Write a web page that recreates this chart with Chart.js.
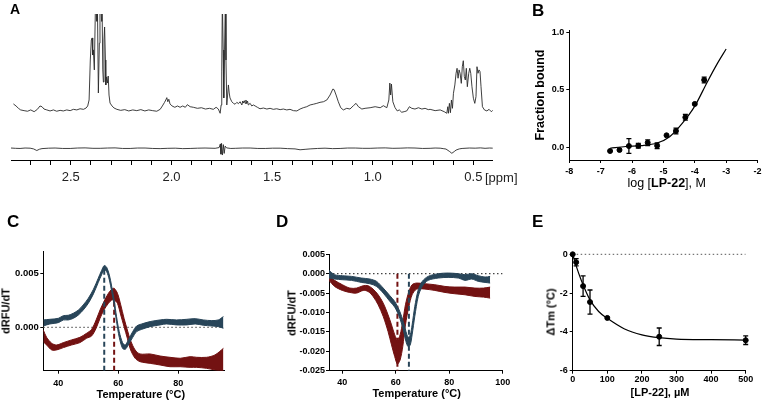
<!DOCTYPE html>
<html>
<head>
<meta charset="utf-8">
<script src="https://cdn.jsdelivr.net/npm/chart.js@4.4.1/dist/chart.umd.min.js"></script>
<style>
  body { margin: 0; background: #fff; }
  #page { position: relative; width: 765px; height: 403px; overflow: hidden; background: #fff; }
  canvas { position: absolute; }
  .t { position: absolute; font-family: 'Liberation Sans', Arial, sans-serif; font-weight: bold; white-space: nowrap; line-height: 1; color: #000; }
  .c { transform: translate(-50%, -50%); }
  .r { transform: translate(-50%, -50%) rotate(-90deg); }
  .n { font-weight: normal; }
</style>
</head>
<body>
<div id="page">
  <canvas id="chartA" width="515" height="200" style="left:0;top:0"></canvas>
  <canvas id="chartB" width="245" height="200" style="left:520px;top:0"></canvas>
  <canvas id="chartC" width="250" height="203" style="left:0;top:200px"></canvas>
  <canvas id="chartD" width="265" height="203" style="left:250px;top:200px"></canvas>
  <canvas id="chartE" width="245" height="203" style="left:520px;top:200px"></canvas>

  <div class="t" style="left:10px;top:2px;font-size:14px">A</div>
  <div class="t" style="left:532px;top:2px;font-size:17px">B</div>
  <div class="t" style="left:7px;top:213px;font-size:17px">C</div>
  <div class="t" style="left:276px;top:213px;font-size:17px">D</div>
  <div class="t" style="left:532px;top:213px;font-size:17px">E</div>

  <div class="t n" style="left:485px;top:176.7px;font-size:13px;transform:translateY(-50%);color:#222">[ppm]</div>

  <div class="t r" style="left:540px;top:95px;font-size:12.5px">Fraction bound</div>
  <div class="t c n" style="left:666.7px;top:182.7px;font-size:12.5px">log [<b>LP-22</b>], M</div>

  <div class="t r" style="left:6.3px;top:311px;font-size:11px">dRFU/dT</div>
  <div class="t c" style="left:140.8px;top:394px;font-size:11px">Temperature (°C)</div>

  <div class="t r" style="left:291.7px;top:313px;font-size:11px">dRFU/dT</div>
  <div class="t c" style="left:416.7px;top:393.3px;font-size:11px">Temperature (°C)</div>

  <div class="t r" style="left:550.7px;top:311.7px;font-size:11px">ΔTm (°C)</div>
  <div class="t c" style="left:660px;top:391.7px;font-size:11px">[LP-22], µM</div>
</div>
<script>
Chart.defaults.font.family = "'Liberation Sans', Arial, sans-serif";
Chart.defaults.color = '#000';

const blue = '#284559';
const red = '#731212';

// ---- A: 1H spectra, [ppm, intensity]
const aTicks = [2.7, 2.6, 2.5, 2.4, 2.3, 2.2, 2.1, 2.0, 1.9, 1.8, 1.7, 1.6, 1.5, 1.4, 1.3, 1.2, 1.1, 1.0, 0.9, 0.8, 0.7, 0.6, 0.5];
const aLabels = ['2.5', '2.0', '1.5', '1.0', '0.5'];
const aTop = [
  [2.785,38.4],[2.772,37.0],[2.760,35.4],[2.749,34.3],[2.732,33.8],[2.715,33.4],[2.699,34.3],[2.682,33.1],[2.666,34.7],[2.653,37.0],
  [2.643,36.5],[2.633,34.9],[2.619,34.3],[2.603,33.6],[2.586,34.3],[2.570,33.4],[2.553,34.0],[2.537,33.6],[2.520,34.3],[2.503,33.8],
  [2.487,34.7],[2.470,34.3],[2.454,35.1],[2.437,34.7],[2.424,35.6],[2.416,37.0],[2.409,41.1],[2.403,68.5],[2.398,82.2],[2.394,83.6],
  [2.391,71.9],[2.388,75.4],[2.383,61.7],[2.377,110],[2.373,110],[2.370,95],[2.368,110],[2.363,45.9],[2.358,80],[2.355,110],
  [2.351,110],[2.347,95],[2.345,110],[2.341,61.7],[2.338,53.4],[2.335,82.2],[2.332,91.1],[2.328,68.5],[2.326,51.4],[2.322,56.9],
  [2.318,52.7],[2.314,57.5],[2.310,44.5],[2.305,39.0],[2.295,37.0],[2.285,35.6],[2.271,34.7],[2.252,34.0],[2.232,34.5],[2.212,33.6],
  [2.192,34.3],[2.172,33.8],[2.152,34.5],[2.132,33.6],[2.113,34.3],[2.093,33.8],[2.073,33.4],[2.056,34.7],[2.045,37.0],[2.035,39.3],
  [2.028,41.1],[2.023,42.7],[2.018,39.9],[2.013,41.6],[2.007,38.4],[1.997,37.0],[1.983,36.1],[1.970,37.0],[1.957,36.1],[1.944,37.0],
  [1.931,36.1],[1.921,37.9],[1.907,36.5],[1.891,36.1],[1.871,35.4],[1.851,35.8],[1.831,34.9],[1.811,35.4],[1.792,34.7],[1.778,36.1],
  [1.767,34.9],[1.758,32.0],[1.753,37.7],[1.750,60.3],[1.747,110],[1.743,75.4],[1.740,42.5],[1.736,75.4],[1.732,110],[1.729,68.5],
  [1.725,37.7],[1.721,44.5],[1.717,51.4],[1.713,45.9],[1.709,42.5],[1.700,39.9],[1.692,38.8],[1.684,38.2],[1.675,39.5],[1.667,38.6],
  [1.659,39.9],[1.650,37.7],[1.646,40.4],[1.643,39.0],[1.638,40.6],[1.634,38.8],[1.630,41.1],[1.626,38.6],[1.622,40.4],[1.618,37.7],
  [1.609,38.8],[1.601,37.0],[1.593,37.7],[1.584,37.0],[1.573,36.1],[1.560,35.1],[1.543,35.6],[1.526,34.9],[1.510,35.4],[1.494,34.7],
  [1.477,35.1],[1.460,34.5],[1.444,34.9],[1.427,34.3],[1.411,34.7],[1.394,33.8],[1.377,33.6],[1.361,34.9],[1.345,35.8],[1.328,36.5],
  [1.311,37.7],[1.295,38.2],[1.278,38.8],[1.262,39.5],[1.245,39.9],[1.228,41.1],[1.212,44.5],[1.198,48.6],[1.192,48.2],[1.182,44.5],
  [1.171,39.9],[1.159,35.8],[1.146,34.3],[1.129,35.4],[1.113,34.9],[1.096,37.2],[1.083,38.8],[1.071,36.5],[1.054,34.9],[1.038,35.4],
  [1.013,35.8],[0.988,36.5],[0.963,35.8],[0.947,37.2],[0.930,35.8],[0.920,41.1],[0.915,52.7],[0.911,44.5],[0.907,52.0],[0.900,39.9],
  [0.889,35.8],[0.878,33.6],[0.868,34.3],[0.856,32.7],[0.844,33.1],[0.831,33.6],[0.818,36.5],[0.806,35.4],[0.790,34.9],[0.773,35.8],
  [0.756,34.9],[0.740,35.4],[0.724,34.5],[0.715,34.7],[0.690,33.8],[0.665,34.3],[0.645,33.1],[0.632,32.0],[0.627,36.5],[0.624,32.0],
  [0.619,38.8],[0.614,32.4],[0.609,41.1],[0.604,35.4],[0.599,45.7],[0.592,51.4],[0.586,59.4],[0.581,62.8],[0.576,56.0],[0.571,61.7],
  [0.566,59.4],[0.560,52.5],[0.555,63.9],[0.550,68.0],[0.545,57.1],[0.540,54.8],[0.535,62.8],[0.530,50.2],[0.523,59.4],[0.518,62.8],
  [0.513,59.4],[0.507,50.2],[0.500,42.3],[0.493,38.8],[0.487,43.4],[0.482,63.9],[0.477,59.4],[0.472,61.7],[0.467,60.5],[0.462,50.2],
  [0.455,36.5],[0.445,34.3],[0.433,33.6],[0.422,34.7],[0.411,33.1],[0.401,34.3]
];
const aBottom = [
  [2.797,8.2],[2.775,8.0],[2.752,7.9],[2.727,8.2],[2.702,8.1],[2.685,7.6],[2.669,6.5],[2.655,7.4],[2.643,7.8],[2.610,8.1],
  [2.578,8.2],[2.540,7.9],[2.503,7.9],[2.466,8.2],[2.429,8.3],[2.390,8.0],[2.354,8.0],[2.317,8.2],[2.280,8.3],[2.243,7.9],
  [2.205,7.9],[2.168,8.2],[2.131,8.2],[2.093,7.9],[2.056,7.8],[2.018,8.0],[1.981,8.1],[1.944,7.8],[1.907,7.9],[1.870,8.1],
  [1.833,8.2],[1.783,8.0],[1.763,8.5],[1.757,11.0],[1.754,4.0],[1.751,11.4],[1.747,3.4],[1.742,10.5],[1.738,4.5],[1.733,9.5],
  [1.726,8.3],[1.705,7.9],[1.683,8.0],[1.646,8.2],[1.609,8.2],[1.571,7.9],[1.534,7.9],[1.497,8.1],[1.460,8.1],[1.423,7.8],
  [1.386,7.6],[1.361,7.0],[1.336,7.3],[1.311,7.6],[1.274,7.9],[1.237,8.1],[1.200,7.8],[1.162,7.9],[1.125,8.2],[1.087,8.2],
  [1.050,8.0],[1.013,8.0],[0.975,8.2],[0.938,8.3],[0.900,8.0],[0.864,8.1],[0.827,8.3],[0.790,8.2],[0.752,7.9],[0.715,8.0],
  [0.690,8.2],[0.665,8.1],[0.650,7.8],[0.636,7.5],[0.620,6.0],[0.607,4.6],[0.595,5.8],[0.586,6.8],[0.570,7.6],[0.556,7.9],
  [0.520,8.2],[0.491,8.1],[0.465,8.3],[0.442,8.0],[0.420,8.2],[0.402,8.1]
];

// ---- B: binding curve
const bLogConc = [-6.7, -6.4, -6.1, -5.8, -5.5, -5.2, -4.9, -4.6, -4.3, -4.0, -3.7];
const bFraction = [-0.029, -0.02, 0.014, 0.017, 0.043, 0.017, 0.107, 0.145, 0.263, 0.379, 0.587];
const bError = [0, 0, 0.064, 0.02, 0.025, 0.025, 0, 0.025, 0.025, 0, 0.025];
const bFitX = [-6.7, -6.2, -5.7, -5.2, -4.8, -4.4, -4.0, -3.6, -3.3, -3.0];
const bFitY = [-0.005, 0.01, 0.017, 0.04, 0.095, 0.21, 0.36, 0.57, 0.72, 0.855];
const bXTicks = [-8, -7, -6, -5, -4, -3, -2];
const bYTicks = [0, 0.5, 1.0];

// ---- C: melt curves (band edges)
const cBlueX = [35, 37.2, 40, 41.7, 43.3, 45, 46.7, 48.3, 50, 51.7, 53.3, 54.4, 55.3, 56.1, 57, 57.8, 58.6, 59.4, 60.3, 61.4, 62.3, 63.3, 64.8, 66.1, 67.8, 70.6, 73.9, 76.1, 79.4, 82.8, 85.6, 88.3, 91.1, 93.3, 95];
const cBlueHi = [0.00068, 0.00074, 0.00083, 0.00108, 0.00111, 0.0013, 0.0016, 0.00207, 0.00269, 0.00352, 0.00454, 0.00525, 0.00572, 0.00556, 0.00485, 0.00377, 0.00253, 0.00099, -0.0004, -0.00142, -0.00164, -0.00117, -0.0004, 0.00012, 0.00031, 0.00053, 0.00068, 0.00074, 0.00068, 0.00074, 0.0008, 0.00068, 0.00062, 0.00068, 0.00099];
const cBlueLo = [0.00012, 0.00031, 0.00043, 0.00068, 0.00068, 0.00083, 0.00114, 0.0016, 0.00222, 0.00309, 0.00414, 0.00485, 0.00531, 0.00516, 0.00439, 0.0033, 0.00207, 0.00053, -0.00093, -0.00195, -0.00204, -0.00164, -0.00093, -0.0004, -0.00019, 0.00006, 0.00022, 0.00031, 0.00022, 0.00022, 0.00031, 0.00019, 0.00012, 0.00006, -0.00009];
const cRedX = [35, 36.1, 37.8, 39.4, 41.7, 44.4, 47.2, 49.4, 51.1, 52.6, 53.9, 55.2, 56.7, 57.8, 58.6, 59.7, 60.8, 61.9, 63, 64.1, 65.6, 67.2, 70.6, 73.9, 77.2, 80.6, 83.9, 86.1, 89.4, 92.2, 95];
const cRedHi = [-0.00025, -0.00093, -0.00148, -0.00164, -0.00142, -0.00117, -0.00093, -0.00056, -0.00019, 0.00068, 0.0016, 0.00238, 0.00315, 0.00352, 0.00361, 0.00315, 0.00207, 0.00083, -0.00025, -0.00124, -0.0021, -0.00247, -0.00247, -0.00266, -0.00278, -0.00287, -0.00272, -0.00278, -0.00278, -0.00256, -0.00195];
const cRedLo = [-0.00133, -0.00164, -0.0021, -0.0021, -0.00188, -0.00164, -0.00142, -0.00102, -0.0008, -0.00009, 0.00083, 0.0016, 0.00222, 0.00253, 0.00253, 0.00222, 0.00114, 0.00006, -0.00102, -0.0021, -0.00287, -0.00318, -0.00334, -0.00349, -0.00365, -0.00365, -0.00371, -0.00371, -0.0038, -0.00395, -0.00402];
const cTm = { blue: [55.3, 0.0055], red: [58.6, 0.0030] };
const cXTicks = [40, 60, 80];
const cYTicks = [0, 0.005];

// ---- D
const dBlueX = [35, 37.1, 40, 43.4, 47.1, 50.3, 52.8, 55.3, 57.8, 59.6, 61.5, 62.8, 63.8, 64.6, 65.4, 66.1, 67.1, 68.4, 69.9, 72.1, 75.9, 79.6, 83.4, 85.9, 88.4, 90.9, 93.4, 95.3];
const dBlueHi = [0.00086, -0.00026, -0.00052, -0.00069, -0.00112, -0.00138, -0.00198, -0.00371, -0.00569, -0.00716, -0.00974, -0.01233, -0.01491, -0.01638, -0.01577, -0.01319, -0.00845, -0.00414, -0.00198, -0.00069, 0, 0.00017, 0, -0.00026, 0, -0.00052, -0.00086, -0.00069];
const dBlueLo = [-0.00112, -0.00138, -0.00155, -0.00172, -0.00224, -0.00259, -0.00328, -0.005, -0.00716, -0.00862, -0.01147, -0.01448, -0.0175, -0.01879, -0.01836, -0.01577, -0.01103, -0.00586, -0.00328, -0.00172, -0.00112, -0.00095, -0.00112, -0.00172, -0.00138, -0.00198, -0.00224, -0.00241];
const dRedX = [35, 37.1, 40, 42.8, 45.3, 47.8, 49.6, 51.5, 53.4, 55.3, 57.1, 58.4, 59.6, 60.6, 61.6, 62.6, 63.6, 64.9, 66.1, 67.8, 70.9, 74.6, 78.4, 82.1, 85.9, 89.6, 92.8, 95.3];
const dRedHi = [-0.00052, -0.00172, -0.00284, -0.00371, -0.00371, -0.0031, -0.0031, -0.00397, -0.00543, -0.00759, -0.0106, -0.01319, -0.01577, -0.01707, -0.01577, -0.01233, -0.00802, -0.00457, -0.00284, -0.00241, -0.00259, -0.00284, -0.00328, -0.00345, -0.00345, -0.00371, -0.00371, -0.00345];
const dRedLo = [-0.00172, -0.00328, -0.00431, -0.00483, -0.005, -0.00431, -0.00457, -0.00586, -0.00802, -0.01103, -0.01491, -0.01836, -0.02138, -0.0233, -0.02224, -0.01879, -0.01319, -0.00845, -0.00543, -0.00397, -0.00397, -0.00431, -0.00483, -0.00517, -0.00543, -0.00586, -0.00603, -0.00629];
const dTm = { red: 60.6, blue: 64.9 };
const dXTicks = [40, 60, 80, 100];
const dYTicks = [0.005, 0, -0.005, -0.01, -0.015, -0.02, -0.025];

// ---- E: delta Tm vs concentration
const eConc = [0, 10, 30, 50, 100, 250, 500];
const eDeltaTm = [0, -0.41, -1.64, -2.46, -3.28, -4.25, -4.43];
const eError = [0, 0.19, 0.53, 0.62, 0, 0.45, 0.22];
const eFitX = [0, 10, 25, 50, 75, 100, 150, 200, 250, 300, 400, 500];
const eFitY = [0, -0.6, -1.35, -2.35, -2.95, -3.3, -3.85, -4.15, -4.3, -4.37, -4.4, -4.42];
const eXTicks = [0, 100, 200, 300, 400, 500];
const eYTicks = [0, -2, -4, -6];

const pts = (xs, ys) => xs.map((x, i) => ({ x: x, y: ys[i] }));
const pairs = arr => arr.map(p => ({ x: p[0], y: p[1] }));

function axis(o) {
    return {
        type: 'linear',
        bounds: 'data',
        min: o.min,
        max: o.max,
        reverse: !!o.reverse,
        display: o.display !== false,
        border: { display: true, color: '#000', width: 1 },
        grid: { display: true, drawOnChartArea: false, drawTicks: true, tickLength: o.tickLen ?? 3, tickColor: '#000', tickWidth: 1 },
        ticks: {
            autoSkip: false,
            maxRotation: 0,
            padding: o.pad ?? 2,
            color: o.color || '#000',
            font: o.font || { size: 9, weight: 'bold' },
            callback: o.fmt,
        },
        afterBuildTicks: s => { s.ticks = o.ticks.map(v => ({ value: v })); },
        afterFit: s => {
            if (o.w != null) s.width = o.w;
            if (o.h != null) s.height = o.h;
        },
    };
}

function band(xs, hi, lo, color, order) {
    return [
        { data: pts(xs, hi), borderColor: color, borderWidth: 1, tension: 0.3, fill: false, order: order },
        { data: pts(xs, lo), borderColor: color, borderWidth: 1, tension: 0.3, fill: '-1', backgroundColor: color, order: order },
    ];
}

function line(data, color, opts) {
    return Object.assign({ data: data, borderColor: color, borderWidth: 1, fill: false, pointRadius: 0 }, opts || {});
}

// error bars drawn through the chart's own scales
function errorBars(xs, ys, errs, cap) {
    return {
        id: 'errorBars',
        afterDatasetsDraw(chart) {
            const { ctx, scales: { x, y } } = chart;
            ctx.save();
            ctx.strokeStyle = '#000';
            ctx.lineWidth = 1.3;
            xs.forEach((v, i) => {
                if (!errs[i]) return;
                const px = x.getPixelForValue(v);
                const top = y.getPixelForValue(ys[i] + errs[i]);
                const bot = y.getPixelForValue(ys[i] - errs[i]);
                ctx.beginPath();
                ctx.moveTo(px, top); ctx.lineTo(px, bot);
                ctx.moveTo(px - cap, top); ctx.lineTo(px + cap, top);
                ctx.moveTo(px - cap, bot); ctx.lineTo(px + cap, bot);
                ctx.stroke();
            });
            ctx.restore();
        }
    };
}

function makeChart(id, datasets, x, y, padding, plugins) {
    return new Chart(document.getElementById(id), {
        type: 'line',
        data: { datasets: datasets },
        options: {
            responsive: false,
            animation: false,
            events: [],
            layout: { padding: padding },
            elements: { point: { radius: 0 } },
            plugins: { legend: { display: false }, tooltip: { enabled: false } },
            scales: { x: x, y: y },
        },
        plugins: plugins || [],
    });
}

// A
makeChart('chartA', [
    line(pairs(aTop), '#2a2a2a', { borderWidth: 0.9 }),
    line(pairs(aBottom), '#2a2a2a', { borderWidth: 0.9 }),
], axis({
    min: 0.404, max: 2.797, reverse: true, ticks: aTicks, tickLen: 5, pad: 4.5, h: 40,
    font: { size: 13, weight: 'normal' }, color: '#222',
    fmt: v => { const s = v.toFixed(1); return aLabels.includes(s) ? s : ''; },
}), axis({ min: 0, max: 100, display: false, ticks: [], fmt: v => '' }),
{ left: 11, right: 22.3, top: 14, bottom: 0 });

// B
makeChart('chartB', [
    line(pts(bFitX, bFitY), '#000', { borderWidth: 1.2, cubicInterpolationMode: 'monotone' }),
    line(pts(bLogConc, bFraction), '#000', { showLine: false, pointRadius: 2.5, pointBackgroundColor: '#000', clip: false }),
], axis({ min: -8, max: -2, ticks: bXTicks, pad: 3.5, h: 40, fmt: v => String(v) }),
   axis({ min: -0.107, max: 1.02, ticks: bYTicks, pad: 2, w: 49.3, fmt: v => v.toFixed(1) }),
{ left: 0, right: 5, top: 30, bottom: 0 },
[errorBars(bLogConc, bFraction, bError, 2.5)]);

// C
makeChart('chartC', [
    line([{ x: 35, y: 0 }, { x: 95, y: 0 }], '#666', { borderDash: [1.5, 2.5], borderWidth: 1.2, order: 10 }),
    ...band(cRedX, cRedHi, cRedLo, red, 8),
    line([{ x: cTm.blue[0], y: -0.00402 }, { x: cTm.blue[0], y: cTm.blue[1] }], blue, { borderDash: [5, 3], borderWidth: 2, order: 6 }),
    line([{ x: cTm.red[0], y: -0.00402 }, { x: cTm.red[0], y: cTm.red[1] }], red, { borderDash: [5, 3], borderWidth: 2, order: 6 }),
    ...band(cBlueX, cBlueHi, cBlueLo, blue, 4),
], axis({ min: 35, max: 95.2, ticks: cXTicks, pad: 4, h: 32.3, fmt: v => String(v) }),
   axis({ min: -0.00402, max: 0.007, ticks: cYTicks, pad: 1.5, w: 43.3, font: { size: 9.5, weight: 'bold' }, fmt: v => v.toFixed(3) }),
{ left: 0, right: 26, top: 51.7, bottom: 0 });

// D
makeChart('chartD', [
    line([{ x: 35, y: 0 }, { x: 100, y: 0 }], '#444', { borderDash: [1.5, 2.5], borderWidth: 1.2, order: 10 }),
    ...band(dRedX, dRedHi, dRedLo, red, 8),
    line([{ x: dTm.red, y: 0 }, { x: dTm.red, y: -0.025 }], red, { borderDash: [5, 3], borderWidth: 2, order: 6 }),
    line([{ x: dTm.blue, y: 0 }, { x: dTm.blue, y: -0.025 }], blue, { borderDash: [5, 3], borderWidth: 2, order: 6 }),
    ...band(dBlueX, dBlueHi, dBlueLo, blue, 4),
], axis({ min: 35, max: 100, ticks: dXTicks, pad: 3, h: 32.3, fmt: v => String(v) }),
   axis({ min: -0.025, max: 0.005, ticks: dYTicks, pad: 1, w: 79, fmt: v => (Math.abs(v) < 1e-9 ? '0.000' : v.toFixed(3)) }),
{ left: 0, right: 12.3, top: 54.3, bottom: 0 });

// E
makeChart('chartE', [
    line([{ x: 0, y: 0 }, { x: 500, y: 0 }], '#777', { borderDash: [1.5, 2.5], borderWidth: 1.2, order: 10 }),
    line(pts(eFitX, eFitY), '#000', { borderWidth: 1.2, cubicInterpolationMode: 'monotone', order: 5 }),
    line(pts(eConc, eDeltaTm), '#000', { showLine: false, pointRadius: 2.5, pointBackgroundColor: '#000', clip: false, order: 1 }),
], axis({ min: 0, max: 500, ticks: eXTicks, pad: 0.5, h: 32.3, fmt: v => String(v) }),
   axis({ min: -6, max: 0.087, ticks: eYTicks, pad: 2, w: 52.7, fmt: v => String(v) }),
{ left: 0, right: 19.3, top: 52.6, bottom: 0 },
[errorBars(eConc, eDeltaTm, eError, 2.5)]);
</script>
</body>
</html>
